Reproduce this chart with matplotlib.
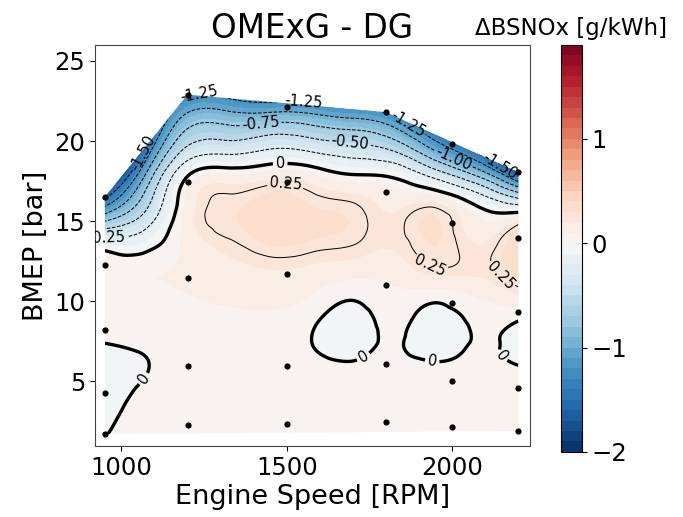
import numpy as np
import matplotlib
matplotlib.use("Agg")
import matplotlib.pyplot as plt
import matplotlib.tri as mtri
from matplotlib.patches import Polygon
from matplotlib.colors import Normalize

# ---- measured operating points (engine speed [RPM], BMEP [bar]) ----
pt_speed = [950] * 5 + [1200] * 5 + [1500] * 5 + [1800] * 5 + [2000] * 5 + [2200] * 5
pt_bmep = [16.5, 12.25, 8.2, 4.3, 1.7,
           22.9, 17.45, 11.45, 5.95, 2.3,
           22.15, 17.45, 11.7, 5.95, 2.35,
           21.8, 16.8, 11.0, 6.05, 2.45,
           19.8, 14.9, 9.9, 5.0, 2.15,
           18.05, 13.95, 9.35, 4.6, 1.9]

grid_speed = [950, 1075, 1200, 1325, 1450, 1575, 1700, 1825, 1950, 2075, 2200]
grid_bmep = [1.5, 3, 4.5, 6, 7.5, 9, 10.5, 12, 13.5, 15, 16.5, 18, 19.5, 21, 22.5, 24]
z_950 = [0.0, -0.03, -0.07, -0.05, 0.005, 0.05, 0.08, 0.06, -0.08, -0.75, -1.55, -2.3, -3.0, -3.5, -4.0, -4.5]
z_1075 = [0.04, 0.04, 0.02, -0.005, 0.03, 0.07, 0.09, 0.08, -0.06, -0.35, -0.65, -1.0, -1.45, -1.85, -2.2, -2.6]
z_1200 = [0.05, 0.05, 0.05, 0.06, 0.07, 0.08, 0.1, 0.12, 0.13, 0.15, 0.12, -0.04, -0.45, -0.8, -1.2, -1.55]
z_1325 = [0.05, 0.05, 0.06, 0.07, 0.08, 0.09, 0.12, 0.17, 0.23, 0.29, 0.26, 0.08, -0.35, -0.75, -1.2, -1.6]
z_1450 = [0.05, 0.05, 0.06, 0.07, 0.07, 0.09, 0.13, 0.2, 0.3, 0.36, 0.32, 0.13, -0.25, -0.7, -1.28, -1.75]
z_1575 = [0.05, 0.05, 0.04, 0.03, 0.0, 0.03, 0.1, 0.18, 0.28, 0.33, 0.27, 0.09, -0.3, -0.75, -1.3, -1.8]
z_1700 = [0.05, 0.05, 0.04, 0.01, -0.04, -0.04, 0.03, 0.15, 0.25, 0.29, 0.22, -0.02, -0.4, -0.85, -1.4, -1.9]
z_1825 = [0.05, 0.05, 0.04, 0.02, 0.01, 0.03, 0.08, 0.15, 0.21, 0.22, 0.15, -0.07, -0.55, -1.05, -1.6, -2.1]
z_1950 = [0.05, 0.05, 0.04, 0.01, -0.05, -0.04, 0.06, 0.24, 0.3, 0.31, 0.12, -0.4, -1.05, -1.6, -2.2, -2.8]
z_2075 = [0.05, 0.05, 0.04, 0.02, 0.01, 0.03, 0.12, 0.22, 0.2, 0.12, -0.15, -0.85, -1.6, -2.2, -2.8, -3.4]
z_2200 = [0.05, 0.05, 0.04, 0.0, -0.05, 0.02, 0.2, 0.35, 0.38, 0.2, -0.55, -1.65, -2.6, -3.4, -4.0, -4.6]

fill_levels = np.round(np.arange(-2.0, 1.95, 0.1), 2)
line_levels = [-1.5, -1.25, -1.0, -0.75, -0.5, -0.25, 0.0, 0.25]
cbar_ticks = [-2, -1, 0, 1]

# contour label positions (level, speed, bmep)
label_pos = [(-1.25, 1237, 22.5), (-1.25, 1550, 22.15), (-1.25, 1864, 21.0),
             (-0.75, 1419, 21.3), (-0.5, 1692, 20.1), (-1.0, 2005, 19.0),
             (-1.5, 2146, 18.5), (-1.5, 1061, 19.3), (-0.25, 955, 13.8),
             (0.25, 1495, 17.2), (0.25, 1934, 12.25), (0.25, 2121, 11.2),
             (0.0, 1480, 18.6), (0.0, 1050, 5.4), (0.0, 1717, 7.0),
             (0.0, 1939, 6.2), (0.0, 2121, 6.1)]

# ---- figure ----
fig = plt.figure(figsize=(6.83, 5.17), dpi=100)
ax = fig.add_axes([0.139, 0.137, 0.637, 0.776])
cax = fig.add_axes([0.821, 0.126, 0.031, 0.787])

# smooth the read grid with matplotlib's cubic triangular interpolator
gs = np.array(grid_speed, float)
gb = np.array(grid_bmep, float)
Z = np.array([z_950, z_1075, z_1200, z_1325, z_1450, z_1575, z_1700,
              z_1825, z_1950, z_2075, z_2200])
ni, nj = Z.shape
II, JJ = np.meshgrid(np.arange(ni), np.arange(nj), indexing="ij")
tris = []
for i in range(ni - 1):
    for j in range(nj - 1):
        a = i * nj + j
        b = (i + 1) * nj + j
        tris.append([a, b, b + 1])
        tris.append([a, b + 1, a + 1])
tri = mtri.Triangulation(II.ravel().astype(float), JJ.ravel().astype(float), np.array(tris))
interp = mtri.CubicTriInterpolator(tri, Z.ravel(), kind="min_E")

xf = np.linspace(gs[0], gs[-1], 420)
yf = np.linspace(gb[0], gb[-1], 420)
XF, YF = np.meshgrid(xf, yf)
XI = np.clip(np.interp(XF, gs, np.arange(ni)), 1e-9, ni - 1 - 1e-9)
YI = np.clip(np.interp(YF, gb, np.arange(nj)), 1e-9, nj - 1 - 1e-9)
ZF = interp(XI, YI)

# convex hull of measured points (map region)
def convex_hull(xs, ys):
    pts = sorted(set(zip(xs, ys)))
    sx, sy = 1.0 / 1250.0, 1.0 / 21.0
    def cross(o, a, b):
        return ((a[0] - o[0]) * sx) * ((b[1] - o[1]) * sy) - ((a[1] - o[1]) * sy) * ((b[0] - o[0]) * sx)
    lower, upper = [], []
    for p in pts:
        while len(lower) >= 2 and cross(lower[-2], lower[-1], p) <= 0:
            lower.pop()
        lower.append(p)
    for p in reversed(pts):
        while len(upper) >= 2 and cross(upper[-2], upper[-1], p) <= 0:
            upper.pop()
        upper.append(p)
    return lower[:-1] + upper[:-1]

hull = convex_hull(pt_speed, pt_bmep)
clip_patch = Polygon(hull, closed=True, transform=ax.transData, fill=False, lw=0)
ax.add_patch(clip_patch)

norm = Normalize(vmin=-2.0, vmax=2.0)
cf = ax.contourf(XF, YF, ZF, levels=fill_levels, cmap="RdBu_r", norm=norm)
cf.set_clip_path(clip_patch)

fmt = lambda v: "0" if abs(v) < 1e-9 else f"{v:.2f}"
line_sets = {}
for lvl in line_levels:
    if lvl == 0.0:
        cs = ax.contour(XF, YF, ZF, levels=[0.0], colors="k", linewidths=2.4,
                        linestyles="solid")
    else:
        cs = ax.contour(XF, YF, ZF, levels=[lvl], colors="k", linewidths=0.7,
                        linestyles="dashed" if lvl < 0 else "solid")
    cs.set_clip_path(clip_patch)
    line_sets[lvl] = cs

for lvl, x, y in label_pos:
    cs = line_sets[lvl]
    if len(cs.allsegs[0]) == 0:
        continue
    ax.clabel(cs, manual=[(x, y)], fmt=fmt, fontsize=10.5,
              inline=True, inline_spacing=3)

ax.scatter(pt_speed, pt_bmep, s=20, c="k", zorder=5, linewidths=0)

ax.set_xlim(920, 2235)
ax.set_ylim(0.95, 26.0)
ax.set_xticks([1000, 1500, 2000])
ax.set_yticks([5, 10, 15, 20, 25])
ax.tick_params(labelsize=17.5)
ax.set_xlabel("Engine Speed [RPM]", fontsize=19.5, labelpad=3)
ax.set_ylabel("BMEP [bar]", fontsize=19.5)
ax.set_title("OMExG - DG", fontsize=23.5, pad=5)
for sp in ax.spines.values():
    sp.set_color("#444444")

cb = fig.colorbar(cf, cax=cax, ticks=cbar_ticks)
cb.ax.tick_params(labelsize=17.5)
cax.set_title("ΔBSNOx [g/kWh]", fontsize=16.5, pad=7)

fig.savefig("out.png", dpi=100)
